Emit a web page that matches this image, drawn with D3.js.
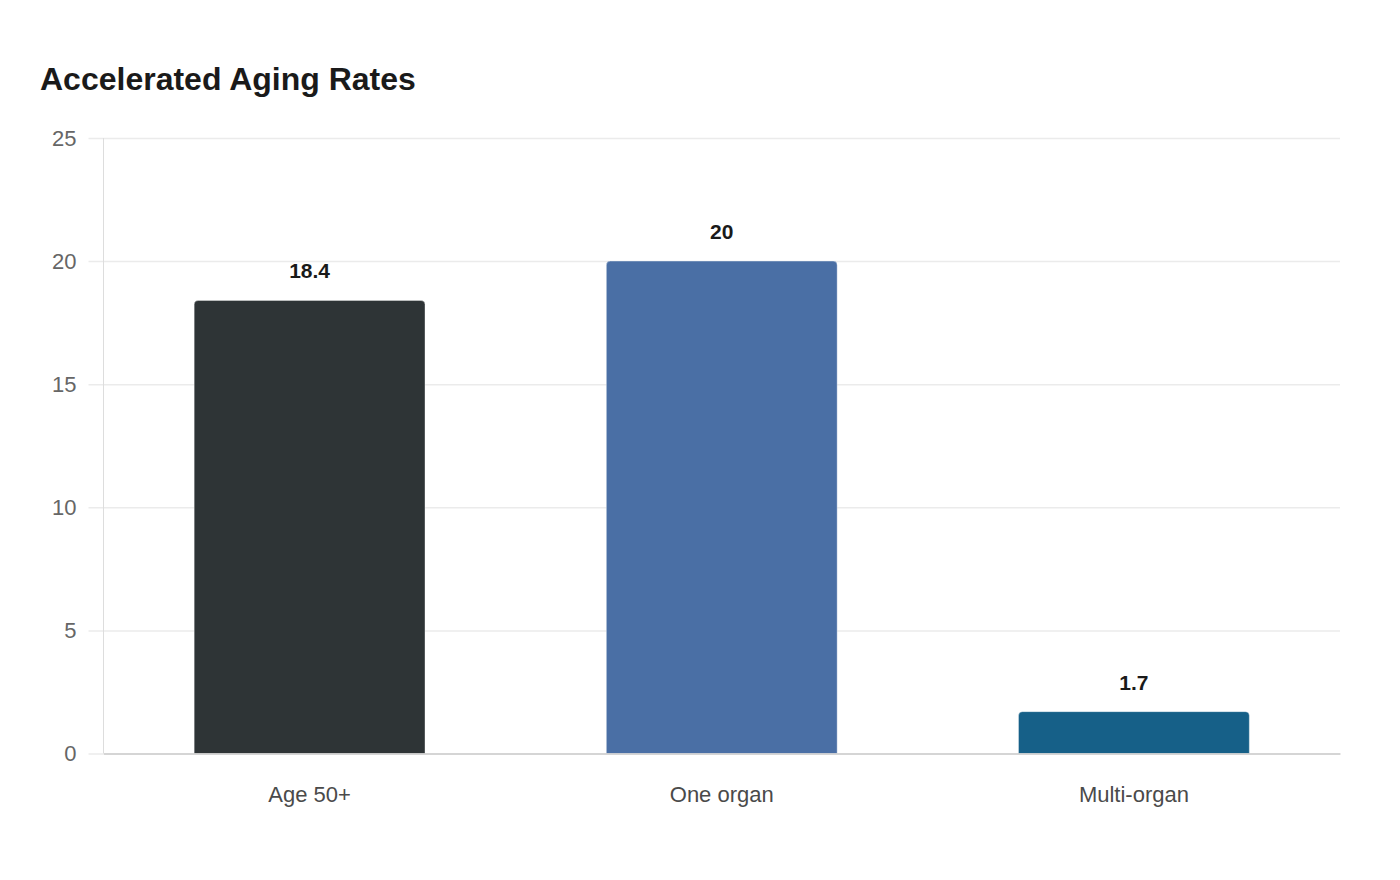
<!DOCTYPE html>
<html><head><meta charset="utf-8">
<script src="https://cdn.jsdelivr.net/npm/d3@7"></script>
<style>
body{margin:0;background:#fff;font-family:"Liberation Sans",Arial,sans-serif;}
</style></head>
<body><svg id="c" width="1400" height="880"></svg>
<script>
const categories = ["Age 50+", "One organ", "Multi-organ"];
const values = [18.4, 20, 1.7];
const colors = ["#2e3436", "#4a6fa5", "#166088"];
const yTicks = [0, 5, 10, 15, 20, 25];

const svg = d3.select("#c");
const m = {left:103.5, right:1340, top:138, bottom:753.5};

svg.append("text").attr("x",40).attr("y",90)
  .attr("font-size",32).attr("font-weight","bold").attr("fill","#1a1a1a")
  .text("Accelerated Aging Rates");

const x = d3.scaleBand().domain(categories).range([m.left, m.right]).paddingInner(0.44).paddingOuter(0.22);
const y = d3.scaleLinear().domain([0,25]).range([m.bottom, m.top]);

// grid
const g = svg.append("g").attr("transform",`translate(${m.left},0)`)
  .call(d3.axisLeft(y).tickValues(yTicks).tickSize(-(m.right-m.left)).tickSizeOuter(0).tickPadding(27));
g.select(".domain").remove();
g.selectAll(".tick line").attr("stroke","#ebebeb").attr("stroke-width",1.5).attr("x1",-15);
g.selectAll(".tick text").attr("font-size",22).attr("fill","#666").attr("font-family","Liberation Sans, Arial, sans-serif");

// y axis line
svg.append("line").attr("x1",m.left).attr("x2",m.left).attr("y1",m.top).attr("y2",m.bottom).attr("stroke","#dddddd").attr("stroke-width",1);

// bars with rounded top
const r = 4;
svg.selectAll("path.bar").data(values).enter().append("path")
  .attr("class","bar")
  .attr("fill",(d,i)=>colors[i])
  .attr("stroke","rgba(255,255,255,0.35)").attr("stroke-width",1)
  .attr("d",(d,i)=>{
    const x0=x(categories[i]), w=x.bandwidth(), y0=y(d), y1=y(0);
    return `M${x0},${y1}V${y0+r}Q${x0},${y0} ${x0+r},${y0}H${x0+w-r}Q${x0+w},${y0} ${x0+w},${y0+r}V${y1}Z`;
  });

// x axis
const xa = svg.append("g").attr("transform",`translate(0,${m.bottom})`)
  .call(d3.axisBottom(x).tickSize(0).tickPadding(33));
xa.select(".domain").attr("stroke","#cccccc").attr("stroke-width",1.5);
xa.selectAll(".tick text").attr("font-size",22).attr("fill","#4a4a4a").attr("font-family","Liberation Sans, Arial, sans-serif");

// value labels
svg.selectAll("text.val").data(values).enter().append("text")
  .attr("class","val")
  .attr("x",(d,i)=>x(categories[i])+x.bandwidth()/2)
  .attr("y",d=>y(d)-22)
  .attr("text-anchor","middle").attr("font-size",21).attr("font-weight","bold").attr("fill","#1a1a1a")
  .text(d=>d);
</script></body></html>
